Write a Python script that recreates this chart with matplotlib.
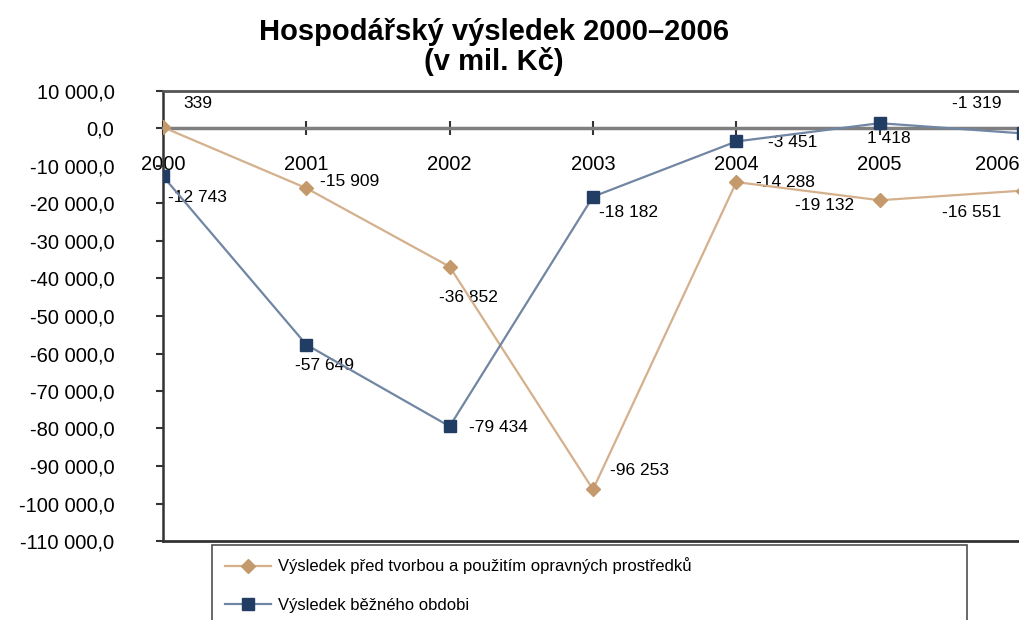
import matplotlib
matplotlib.use("Agg")
import matplotlib.pyplot as plt
import matplotlib.transforms as mtransforms
from matplotlib.ticker import FuncFormatter

# data
years = ["2000", "2001", "2002", "2003", "2004", "2005", "2006"]
pred_tvorbou = [339, -15909, -36852, -96253, -14288, -19132, -16551]
bezne_obdobi = [-12743, -57649, -79434, -18182, -3451, 1418, -1319]
label_pred = "Výsledek před tvorbou a použitím opravných prostředků"
label_bezne = "Výsledek běžného obdobi"

# label offsets in pixels (Excel had them hand placed)
off_pred = [(20, 24), (14, 7), (-11, -31), (17, 19), (20, 0), (-85, -5), (-81, -22)]
off_bezne = [(5, -21), (-11, -21), (19, -1), (6, -16), (32, -1), (-13, -15), (-71, 30)]

TAN_LINE = "#d4b08c"
TAN_MARK = "#c49a6c"
NAVY_LINE = "#7186a3"
NAVY_MARK = "#213d63"

plt.rcParams['font.family'] = ['Liberation Sans', 'DejaVu Sans']


def cz_thousands(v):
    s = "{:,.0f}".format(abs(v)).replace(",", " ")
    return ("-" if v < 0 else "") + s


def cz_axis(v, pos):
    s = "{:,.1f}".format(abs(v)).replace(",", " ").replace(".", ",")
    return ("-" if v < -0.5 else "") + s


fig = plt.figure(figsize=(10.19, 6.2), dpi=100)
# right edge runs past the figure, as in the source image
ax = fig.add_axes([163 / 1019, 1 - 541 / 620, 903 / 1019, 450 / 620])

x = list(range(len(years)))
l1, = ax.plot(x, pred_tvorbou, color=TAN_LINE, lw=1.6, marker="D", ms=7,
              mfc=TAN_MARK, mec=TAN_MARK, zorder=4)
l2, = ax.plot(x, bezne_obdobi, color=NAVY_LINE, lw=1.6, marker="s", ms=9,
              mfc=NAVY_MARK, mec=NAVY_MARK, zorder=5)

for i, v in enumerate(pred_tvorbou):
    ax.annotate(cz_thousands(v), (i, v), xytext=off_pred[i], textcoords="offset pixels",
                ha="left", va="center", fontsize=12.5, annotation_clip=False)
for i, v in enumerate(bezne_obdobi):
    ax.annotate(cz_thousands(v), (i, v), xytext=off_bezne[i], textcoords="offset pixels",
                ha="left", va="center", fontsize=12.5, annotation_clip=False)

ax.set_xlim(0, 6.3)
ax.set_ylim(-110000, 10000)
ax.set_yticks(range(-110000, 10001, 10000))
ax.yaxis.set_major_formatter(FuncFormatter(cz_axis))
ax.tick_params(axis="y", direction="out", length=5, width=1.5, pad=30,
               labelsize=14.5, colors="#333333", labelcolor="black")

# category axis sits on zero
ax.spines["bottom"].set_position(("data", 0))
ax.spines["bottom"].set_color("#7f7f7f")
ax.spines["bottom"].set_linewidth(2.5)
ax.set_xticks(x)
ax.set_xticklabels(years)
ax.tick_params(axis="x", direction="inout", length=10, width=1.5, pad=14,
               labelsize=14.5, colors="#333333", labelcolor="black")
for t in ax.get_xticklabels():
    t.set_zorder(6)
# Excel nudges the last year label inward
last = ax.get_xticklabels()[-1]
last.set_transform(last.get_transform() +
                   mtransforms.ScaledTranslation(-26 / 100, 0, fig.dpi_scale_trans))

ax.spines["left"].set_color("#333333")
ax.spines["left"].set_linewidth(1.8)
ax.spines["top"].set_color("#555555")
ax.spines["top"].set_linewidth(2)
ax.spines["right"].set_visible(False)
ax.plot([0, 1], [0, 0], transform=ax.transAxes, color="#333333", lw=2,
        clip_on=False, zorder=6)

fig.text(494 / 1019, 1 - 18 / 620, "Hospodářský výsledek 2000–2006\n(v mil. Kč)",
         ha="center", va="top", fontsize=21, fontweight="bold", linespacing=1.05)

leg = fig.legend([l1, l2], [label_pred, label_bezne], loc="upper left",
                 bbox_to_anchor=(212 / 1019, -0.3, 755 / 1019, 0.3 + 1 - 545 / 620),
                 mode="expand", fontsize=12, frameon=True, fancybox=False,
                 handlelength=2.8, handletextpad=0.4, labelspacing=1.4,
                 borderpad=0.75, borderaxespad=0)
leg.get_frame().set_edgecolor("#222222")
leg.get_frame().set_linewidth(1.2)

fig.savefig("out.png", dpi=100)
